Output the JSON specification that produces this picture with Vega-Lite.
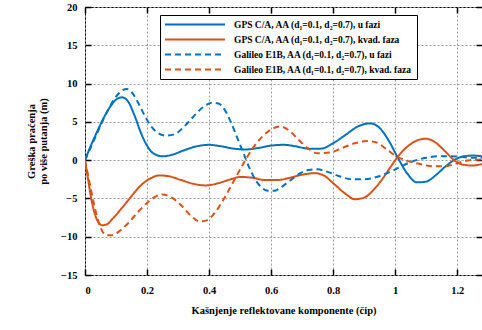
{
  "$schema": "https://vega.github.io/schema/vega-lite/v6.json",
  "width": 397,
  "height": 268,
  "autosize": "none",
  "padding": {"left": 85, "top": 7, "right": 0, "bottom": 55},
  "background": "white",
  "config": {
    "view": {"stroke": "black", "strokeWidth": 1},
    "font": "Liberation Serif",
    "axis": {
      "labelFont": "Liberation Serif", "labelFontWeight": "bold", "labelFontSize": 10.5, "labelColor": "black",
      "titleFont": "Liberation Serif", "titleFontWeight": "bold", "titleFontSize": 10.5, "titleColor": "black",
      "domain": false, "tickColor": "black", "tickWidth": 1.5,
      "gridColor": "#9a9a9a", "gridDash": [2, 2], "gridWidth": 1, "gridOpacity": 1
    }
  },
  "data": {"values": [
    {"s": "GPS C/A, AA (d₁=0.1, d₂=0.7), u fazi", "x": 0, "y": 0},
    {"s": "GPS C/A, AA (d₁=0.1, d₂=0.7), u fazi", "x": 0.02, "y": 2.0},
    {"s": "GPS C/A, AA (d₁=0.1, d₂=0.7), u fazi", "x": 0.04, "y": 3.8},
    {"s": "GPS C/A, AA (d₁=0.1, d₂=0.7), u fazi", "x": 0.06, "y": 5.5},
    {"s": "GPS C/A, AA (d₁=0.1, d₂=0.7), u fazi", "x": 0.08, "y": 6.9},
    {"s": "GPS C/A, AA (d₁=0.1, d₂=0.7), u fazi", "x": 0.10, "y": 7.9},
    {"s": "GPS C/A, AA (d₁=0.1, d₂=0.7), u fazi", "x": 0.12, "y": 8.2},
    {"s": "GPS C/A, AA (d₁=0.1, d₂=0.7), u fazi", "x": 0.14, "y": 7.6},
    {"s": "GPS C/A, AA (d₁=0.1, d₂=0.7), u fazi", "x": 0.16, "y": 5.8},
    {"s": "GPS C/A, AA (d₁=0.1, d₂=0.7), u fazi", "x": 0.18, "y": 3.6},
    {"s": "GPS C/A, AA (d₁=0.1, d₂=0.7), u fazi", "x": 0.20, "y": 1.9},
    {"s": "GPS C/A, AA (d₁=0.1, d₂=0.7), u fazi", "x": 0.22, "y": 0.9},
    {"s": "GPS C/A, AA (d₁=0.1, d₂=0.7), u fazi", "x": 0.25, "y": 0.5},
    {"s": "GPS C/A, AA (d₁=0.1, d₂=0.7), u fazi", "x": 0.28, "y": 0.7},
    {"s": "GPS C/A, AA (d₁=0.1, d₂=0.7), u fazi", "x": 0.32, "y": 1.3},
    {"s": "GPS C/A, AA (d₁=0.1, d₂=0.7), u fazi", "x": 0.36, "y": 1.8},
    {"s": "GPS C/A, AA (d₁=0.1, d₂=0.7), u fazi", "x": 0.40, "y": 2.0},
    {"s": "GPS C/A, AA (d₁=0.1, d₂=0.7), u fazi", "x": 0.44, "y": 1.8},
    {"s": "GPS C/A, AA (d₁=0.1, d₂=0.7), u fazi", "x": 0.48, "y": 1.5},
    {"s": "GPS C/A, AA (d₁=0.1, d₂=0.7), u fazi", "x": 0.52, "y": 1.4},
    {"s": "GPS C/A, AA (d₁=0.1, d₂=0.7), u fazi", "x": 0.56, "y": 1.6},
    {"s": "GPS C/A, AA (d₁=0.1, d₂=0.7), u fazi", "x": 0.60, "y": 1.9},
    {"s": "GPS C/A, AA (d₁=0.1, d₂=0.7), u fazi", "x": 0.64, "y": 2.0},
    {"s": "GPS C/A, AA (d₁=0.1, d₂=0.7), u fazi", "x": 0.68, "y": 1.8},
    {"s": "GPS C/A, AA (d₁=0.1, d₂=0.7), u fazi", "x": 0.72, "y": 1.5},
    {"s": "GPS C/A, AA (d₁=0.1, d₂=0.7), u fazi", "x": 0.76, "y": 1.5},
    {"s": "GPS C/A, AA (d₁=0.1, d₂=0.7), u fazi", "x": 0.80, "y": 2.2},
    {"s": "GPS C/A, AA (d₁=0.1, d₂=0.7), u fazi", "x": 0.84, "y": 3.3},
    {"s": "GPS C/A, AA (d₁=0.1, d₂=0.7), u fazi", "x": 0.88, "y": 4.4},
    {"s": "GPS C/A, AA (d₁=0.1, d₂=0.7), u fazi", "x": 0.92, "y": 4.8},
    {"s": "GPS C/A, AA (d₁=0.1, d₂=0.7), u fazi", "x": 0.95, "y": 4.2},
    {"s": "GPS C/A, AA (d₁=0.1, d₂=0.7), u fazi", "x": 0.98, "y": 2.5},
    {"s": "GPS C/A, AA (d₁=0.1, d₂=0.7), u fazi", "x": 1.01, "y": 0.2},
    {"s": "GPS C/A, AA (d₁=0.1, d₂=0.7), u fazi", "x": 1.04, "y": -1.8},
    {"s": "GPS C/A, AA (d₁=0.1, d₂=0.7), u fazi", "x": 1.07, "y": -2.9},
    {"s": "GPS C/A, AA (d₁=0.1, d₂=0.7), u fazi", "x": 1.10, "y": -2.8},
    {"s": "GPS C/A, AA (d₁=0.1, d₂=0.7), u fazi", "x": 1.13, "y": -2.0},
    {"s": "GPS C/A, AA (d₁=0.1, d₂=0.7), u fazi", "x": 1.16, "y": -0.9},
    {"s": "GPS C/A, AA (d₁=0.1, d₂=0.7), u fazi", "x": 1.19, "y": 0.0},
    {"s": "GPS C/A, AA (d₁=0.1, d₂=0.7), u fazi", "x": 1.22, "y": 0.5},
    {"s": "GPS C/A, AA (d₁=0.1, d₂=0.7), u fazi", "x": 1.25, "y": 0.6},
    {"s": "GPS C/A, AA (d₁=0.1, d₂=0.7), u fazi", "x": 1.28, "y": 0.5},

    {"s": "GPS C/A, AA (d₁=0.1, d₂=0.7), kvad. faza", "x": 0, "y": 0},
    {"s": "GPS C/A, AA (d₁=0.1, d₂=0.7), kvad. faza", "x": 0.01, "y": -2.5},
    {"s": "GPS C/A, AA (d₁=0.1, d₂=0.7), kvad. faza", "x": 0.02, "y": -5.0},
    {"s": "GPS C/A, AA (d₁=0.1, d₂=0.7), kvad. faza", "x": 0.03, "y": -6.8},
    {"s": "GPS C/A, AA (d₁=0.1, d₂=0.7), kvad. faza", "x": 0.04, "y": -7.9},
    {"s": "GPS C/A, AA (d₁=0.1, d₂=0.7), kvad. faza", "x": 0.055, "y": -8.5},
    {"s": "GPS C/A, AA (d₁=0.1, d₂=0.7), kvad. faza", "x": 0.07, "y": -8.4},
    {"s": "GPS C/A, AA (d₁=0.1, d₂=0.7), kvad. faza", "x": 0.09, "y": -7.6},
    {"s": "GPS C/A, AA (d₁=0.1, d₂=0.7), kvad. faza", "x": 0.12, "y": -6.2},
    {"s": "GPS C/A, AA (d₁=0.1, d₂=0.7), kvad. faza", "x": 0.15, "y": -4.7},
    {"s": "GPS C/A, AA (d₁=0.1, d₂=0.7), kvad. faza", "x": 0.18, "y": -3.3},
    {"s": "GPS C/A, AA (d₁=0.1, d₂=0.7), kvad. faza", "x": 0.21, "y": -2.4},
    {"s": "GPS C/A, AA (d₁=0.1, d₂=0.7), kvad. faza", "x": 0.24, "y": -2.0},
    {"s": "GPS C/A, AA (d₁=0.1, d₂=0.7), kvad. faza", "x": 0.27, "y": -2.1},
    {"s": "GPS C/A, AA (d₁=0.1, d₂=0.7), kvad. faza", "x": 0.31, "y": -2.6},
    {"s": "GPS C/A, AA (d₁=0.1, d₂=0.7), kvad. faza", "x": 0.35, "y": -3.1},
    {"s": "GPS C/A, AA (d₁=0.1, d₂=0.7), kvad. faza", "x": 0.39, "y": -3.3},
    {"s": "GPS C/A, AA (d₁=0.1, d₂=0.7), kvad. faza", "x": 0.43, "y": -3.0},
    {"s": "GPS C/A, AA (d₁=0.1, d₂=0.7), kvad. faza", "x": 0.47, "y": -2.5},
    {"s": "GPS C/A, AA (d₁=0.1, d₂=0.7), kvad. faza", "x": 0.50, "y": -2.2},
    {"s": "GPS C/A, AA (d₁=0.1, d₂=0.7), kvad. faza", "x": 0.54, "y": -2.3},
    {"s": "GPS C/A, AA (d₁=0.1, d₂=0.7), kvad. faza", "x": 0.58, "y": -2.6},
    {"s": "GPS C/A, AA (d₁=0.1, d₂=0.7), kvad. faza", "x": 0.62, "y": -2.6},
    {"s": "GPS C/A, AA (d₁=0.1, d₂=0.7), kvad. faza", "x": 0.66, "y": -2.3},
    {"s": "GPS C/A, AA (d₁=0.1, d₂=0.7), kvad. faza", "x": 0.70, "y": -1.9},
    {"s": "GPS C/A, AA (d₁=0.1, d₂=0.7), kvad. faza", "x": 0.74, "y": -1.7},
    {"s": "GPS C/A, AA (d₁=0.1, d₂=0.7), kvad. faza", "x": 0.77, "y": -2.0},
    {"s": "GPS C/A, AA (d₁=0.1, d₂=0.7), kvad. faza", "x": 0.80, "y": -3.0},
    {"s": "GPS C/A, AA (d₁=0.1, d₂=0.7), kvad. faza", "x": 0.84, "y": -4.4},
    {"s": "GPS C/A, AA (d₁=0.1, d₂=0.7), kvad. faza", "x": 0.87, "y": -5.1},
    {"s": "GPS C/A, AA (d₁=0.1, d₂=0.7), kvad. faza", "x": 0.90, "y": -4.9},
    {"s": "GPS C/A, AA (d₁=0.1, d₂=0.7), kvad. faza", "x": 0.93, "y": -3.9},
    {"s": "GPS C/A, AA (d₁=0.1, d₂=0.7), kvad. faza", "x": 0.96, "y": -2.4},
    {"s": "GPS C/A, AA (d₁=0.1, d₂=0.7), kvad. faza", "x": 0.99, "y": -0.6},
    {"s": "GPS C/A, AA (d₁=0.1, d₂=0.7), kvad. faza", "x": 1.02, "y": 1.0},
    {"s": "GPS C/A, AA (d₁=0.1, d₂=0.7), kvad. faza", "x": 1.05, "y": 2.1},
    {"s": "GPS C/A, AA (d₁=0.1, d₂=0.7), kvad. faza", "x": 1.08, "y": 2.7},
    {"s": "GPS C/A, AA (d₁=0.1, d₂=0.7), kvad. faza", "x": 1.10, "y": 2.8},
    {"s": "GPS C/A, AA (d₁=0.1, d₂=0.7), kvad. faza", "x": 1.13, "y": 2.3},
    {"s": "GPS C/A, AA (d₁=0.1, d₂=0.7), kvad. faza", "x": 1.16, "y": 1.2},
    {"s": "GPS C/A, AA (d₁=0.1, d₂=0.7), kvad. faza", "x": 1.19, "y": 0.0},
    {"s": "GPS C/A, AA (d₁=0.1, d₂=0.7), kvad. faza", "x": 1.22, "y": -0.6},
    {"s": "GPS C/A, AA (d₁=0.1, d₂=0.7), kvad. faza", "x": 1.25, "y": -0.7},
    {"s": "GPS C/A, AA (d₁=0.1, d₂=0.7), kvad. faza", "x": 1.28, "y": -0.5},

    {"s": "Galileo E1B, AA (d₁=0.1, d₂=0.7), u fazi", "x": 0, "y": 0},
    {"s": "Galileo E1B, AA (d₁=0.1, d₂=0.7), u fazi", "x": 0.02, "y": 1.8},
    {"s": "Galileo E1B, AA (d₁=0.1, d₂=0.7), u fazi", "x": 0.04, "y": 3.6},
    {"s": "Galileo E1B, AA (d₁=0.1, d₂=0.7), u fazi", "x": 0.06, "y": 5.4},
    {"s": "Galileo E1B, AA (d₁=0.1, d₂=0.7), u fazi", "x": 0.08, "y": 7.0},
    {"s": "Galileo E1B, AA (d₁=0.1, d₂=0.7), u fazi", "x": 0.10, "y": 8.3},
    {"s": "Galileo E1B, AA (d₁=0.1, d₂=0.7), u fazi", "x": 0.12, "y": 9.1},
    {"s": "Galileo E1B, AA (d₁=0.1, d₂=0.7), u fazi", "x": 0.135, "y": 9.3},
    {"s": "Galileo E1B, AA (d₁=0.1, d₂=0.7), u fazi", "x": 0.15, "y": 8.9},
    {"s": "Galileo E1B, AA (d₁=0.1, d₂=0.7), u fazi", "x": 0.17, "y": 7.6},
    {"s": "Galileo E1B, AA (d₁=0.1, d₂=0.7), u fazi", "x": 0.19, "y": 6.0},
    {"s": "Galileo E1B, AA (d₁=0.1, d₂=0.7), u fazi", "x": 0.21, "y": 4.6},
    {"s": "Galileo E1B, AA (d₁=0.1, d₂=0.7), u fazi", "x": 0.23, "y": 3.7},
    {"s": "Galileo E1B, AA (d₁=0.1, d₂=0.7), u fazi", "x": 0.26, "y": 3.2},
    {"s": "Galileo E1B, AA (d₁=0.1, d₂=0.7), u fazi", "x": 0.29, "y": 3.4},
    {"s": "Galileo E1B, AA (d₁=0.1, d₂=0.7), u fazi", "x": 0.32, "y": 4.4},
    {"s": "Galileo E1B, AA (d₁=0.1, d₂=0.7), u fazi", "x": 0.35, "y": 5.7},
    {"s": "Galileo E1B, AA (d₁=0.1, d₂=0.7), u fazi", "x": 0.38, "y": 6.9},
    {"s": "Galileo E1B, AA (d₁=0.1, d₂=0.7), u fazi", "x": 0.41, "y": 7.5},
    {"s": "Galileo E1B, AA (d₁=0.1, d₂=0.7), u fazi", "x": 0.43, "y": 7.4},
    {"s": "Galileo E1B, AA (d₁=0.1, d₂=0.7), u fazi", "x": 0.45, "y": 6.6},
    {"s": "Galileo E1B, AA (d₁=0.1, d₂=0.7), u fazi", "x": 0.47, "y": 5.0},
    {"s": "Galileo E1B, AA (d₁=0.1, d₂=0.7), u fazi", "x": 0.49, "y": 3.0},
    {"s": "Galileo E1B, AA (d₁=0.1, d₂=0.7), u fazi", "x": 0.51, "y": 1.0},
    {"s": "Galileo E1B, AA (d₁=0.1, d₂=0.7), u fazi", "x": 0.53, "y": -1.0},
    {"s": "Galileo E1B, AA (d₁=0.1, d₂=0.7), u fazi", "x": 0.55, "y": -2.6},
    {"s": "Galileo E1B, AA (d₁=0.1, d₂=0.7), u fazi", "x": 0.57, "y": -3.6},
    {"s": "Galileo E1B, AA (d₁=0.1, d₂=0.7), u fazi", "x": 0.59, "y": -4.0},
    {"s": "Galileo E1B, AA (d₁=0.1, d₂=0.7), u fazi", "x": 0.61, "y": -4.0},
    {"s": "Galileo E1B, AA (d₁=0.1, d₂=0.7), u fazi", "x": 0.63, "y": -3.6},
    {"s": "Galileo E1B, AA (d₁=0.1, d₂=0.7), u fazi", "x": 0.66, "y": -2.7},
    {"s": "Galileo E1B, AA (d₁=0.1, d₂=0.7), u fazi", "x": 0.69, "y": -1.8},
    {"s": "Galileo E1B, AA (d₁=0.1, d₂=0.7), u fazi", "x": 0.72, "y": -1.3},
    {"s": "Galileo E1B, AA (d₁=0.1, d₂=0.7), u fazi", "x": 0.75, "y": -1.2},
    {"s": "Galileo E1B, AA (d₁=0.1, d₂=0.7), u fazi", "x": 0.78, "y": -1.5},
    {"s": "Galileo E1B, AA (d₁=0.1, d₂=0.7), u fazi", "x": 0.82, "y": -2.1},
    {"s": "Galileo E1B, AA (d₁=0.1, d₂=0.7), u fazi", "x": 0.86, "y": -2.5},
    {"s": "Galileo E1B, AA (d₁=0.1, d₂=0.7), u fazi", "x": 0.90, "y": -2.5},
    {"s": "Galileo E1B, AA (d₁=0.1, d₂=0.7), u fazi", "x": 0.94, "y": -2.2},
    {"s": "Galileo E1B, AA (d₁=0.1, d₂=0.7), u fazi", "x": 0.98, "y": -1.6},
    {"s": "Galileo E1B, AA (d₁=0.1, d₂=0.7), u fazi", "x": 1.02, "y": -0.8},
    {"s": "Galileo E1B, AA (d₁=0.1, d₂=0.7), u fazi", "x": 1.06, "y": -0.1},
    {"s": "Galileo E1B, AA (d₁=0.1, d₂=0.7), u fazi", "x": 1.10, "y": 0.3},
    {"s": "Galileo E1B, AA (d₁=0.1, d₂=0.7), u fazi", "x": 1.14, "y": 0.5},
    {"s": "Galileo E1B, AA (d₁=0.1, d₂=0.7), u fazi", "x": 1.18, "y": 0.5},
    {"s": "Galileo E1B, AA (d₁=0.1, d₂=0.7), u fazi", "x": 1.22, "y": 0.4},
    {"s": "Galileo E1B, AA (d₁=0.1, d₂=0.7), u fazi", "x": 1.25, "y": 0.3},
    {"s": "Galileo E1B, AA (d₁=0.1, d₂=0.7), u fazi", "x": 1.28, "y": 0.3},

    {"s": "Galileo E1B, AA (d₁=0.1, d₂=0.7), kvad. faza", "x": 0, "y": 0},
    {"s": "Galileo E1B, AA (d₁=0.1, d₂=0.7), kvad. faza", "x": 0.01, "y": -2.0},
    {"s": "Galileo E1B, AA (d₁=0.1, d₂=0.7), kvad. faza", "x": 0.02, "y": -4.0},
    {"s": "Galileo E1B, AA (d₁=0.1, d₂=0.7), kvad. faza", "x": 0.035, "y": -6.8},
    {"s": "Galileo E1B, AA (d₁=0.1, d₂=0.7), kvad. faza", "x": 0.05, "y": -8.8},
    {"s": "Galileo E1B, AA (d₁=0.1, d₂=0.7), kvad. faza", "x": 0.07, "y": -9.8},
    {"s": "Galileo E1B, AA (d₁=0.1, d₂=0.7), kvad. faza", "x": 0.09, "y": -9.8},
    {"s": "Galileo E1B, AA (d₁=0.1, d₂=0.7), kvad. faza", "x": 0.11, "y": -9.3},
    {"s": "Galileo E1B, AA (d₁=0.1, d₂=0.7), kvad. faza", "x": 0.14, "y": -8.2},
    {"s": "Galileo E1B, AA (d₁=0.1, d₂=0.7), kvad. faza", "x": 0.17, "y": -6.8},
    {"s": "Galileo E1B, AA (d₁=0.1, d₂=0.7), kvad. faza", "x": 0.20, "y": -5.6},
    {"s": "Galileo E1B, AA (d₁=0.1, d₂=0.7), kvad. faza", "x": 0.23, "y": -4.7},
    {"s": "Galileo E1B, AA (d₁=0.1, d₂=0.7), kvad. faza", "x": 0.25, "y": -4.5},
    {"s": "Galileo E1B, AA (d₁=0.1, d₂=0.7), kvad. faza", "x": 0.28, "y": -4.9},
    {"s": "Galileo E1B, AA (d₁=0.1, d₂=0.7), kvad. faza", "x": 0.31, "y": -5.9},
    {"s": "Galileo E1B, AA (d₁=0.1, d₂=0.7), kvad. faza", "x": 0.34, "y": -7.2},
    {"s": "Galileo E1B, AA (d₁=0.1, d₂=0.7), kvad. faza", "x": 0.37, "y": -8.0},
    {"s": "Galileo E1B, AA (d₁=0.1, d₂=0.7), kvad. faza", "x": 0.39, "y": -7.9},
    {"s": "Galileo E1B, AA (d₁=0.1, d₂=0.7), kvad. faza", "x": 0.42, "y": -6.8},
    {"s": "Galileo E1B, AA (d₁=0.1, d₂=0.7), kvad. faza", "x": 0.45, "y": -4.9},
    {"s": "Galileo E1B, AA (d₁=0.1, d₂=0.7), kvad. faza", "x": 0.48, "y": -2.7},
    {"s": "Galileo E1B, AA (d₁=0.1, d₂=0.7), kvad. faza", "x": 0.51, "y": -0.5},
    {"s": "Galileo E1B, AA (d₁=0.1, d₂=0.7), kvad. faza", "x": 0.54, "y": 1.5},
    {"s": "Galileo E1B, AA (d₁=0.1, d₂=0.7), kvad. faza", "x": 0.57, "y": 3.0},
    {"s": "Galileo E1B, AA (d₁=0.1, d₂=0.7), kvad. faza", "x": 0.60, "y": 4.0},
    {"s": "Galileo E1B, AA (d₁=0.1, d₂=0.7), kvad. faza", "x": 0.63, "y": 4.4},
    {"s": "Galileo E1B, AA (d₁=0.1, d₂=0.7), kvad. faza", "x": 0.66, "y": 3.8},
    {"s": "Galileo E1B, AA (d₁=0.1, d₂=0.7), kvad. faza", "x": 0.69, "y": 2.6},
    {"s": "Galileo E1B, AA (d₁=0.1, d₂=0.7), kvad. faza", "x": 0.72, "y": 1.5},
    {"s": "Galileo E1B, AA (d₁=0.1, d₂=0.7), kvad. faza", "x": 0.75, "y": 0.9},
    {"s": "Galileo E1B, AA (d₁=0.1, d₂=0.7), kvad. faza", "x": 0.79, "y": 1.0},
    {"s": "Galileo E1B, AA (d₁=0.1, d₂=0.7), kvad. faza", "x": 0.83, "y": 1.6},
    {"s": "Galileo E1B, AA (d₁=0.1, d₂=0.7), kvad. faza", "x": 0.87, "y": 2.2},
    {"s": "Galileo E1B, AA (d₁=0.1, d₂=0.7), kvad. faza", "x": 0.91, "y": 2.5},
    {"s": "Galileo E1B, AA (d₁=0.1, d₂=0.7), kvad. faza", "x": 0.94, "y": 2.3},
    {"s": "Galileo E1B, AA (d₁=0.1, d₂=0.7), kvad. faza", "x": 0.97, "y": 1.5},
    {"s": "Galileo E1B, AA (d₁=0.1, d₂=0.7), kvad. faza", "x": 1.00, "y": 0.6},
    {"s": "Galileo E1B, AA (d₁=0.1, d₂=0.7), kvad. faza", "x": 1.04, "y": -0.1},
    {"s": "Galileo E1B, AA (d₁=0.1, d₂=0.7), kvad. faza", "x": 1.08, "y": -0.5},
    {"s": "Galileo E1B, AA (d₁=0.1, d₂=0.7), kvad. faza", "x": 1.12, "y": -0.8},
    {"s": "Galileo E1B, AA (d₁=0.1, d₂=0.7), kvad. faza", "x": 1.16, "y": -0.8},
    {"s": "Galileo E1B, AA (d₁=0.1, d₂=0.7), kvad. faza", "x": 1.20, "y": -0.4},
    {"s": "Galileo E1B, AA (d₁=0.1, d₂=0.7), kvad. faza", "x": 1.24, "y": 0.0},
    {"s": "Galileo E1B, AA (d₁=0.1, d₂=0.7), kvad. faza", "x": 1.28, "y": 0.1}
  ]},
  "layer": [
    {
      "mark": {"type": "line", "interpolate": "monotone", "strokeWidth": 2, "clip": true},
      "encoding": {
        "x": {"field": "x", "type": "quantitative", "scale": {"domain": [0, 1.28], "nice": false},
              "axis": {"title": "Kašnjenje reflektovane komponente (čip)", "values": [0, 0.2, 0.4, 0.6, 0.8, 1, 1.2], "format": "~g",
                       "tickSize": -6, "labelPadding": 16, "titlePadding": 10, "grid": true}},
        "y": {"field": "y", "type": "quantitative", "scale": {"domain": [-15, 20], "nice": false},
              "axis": {"title": ["Greška praćenja", "po više putanja (m)"], "values": [-15, -10, -5, 0, 5, 10, 15, 20],
                       "tickSize": -6, "labelPadding": 14, "titlePadding": 12, "grid": true}},
        "color": {"field": "s", "type": "nominal",
                  "scale": {"domain": ["GPS C/A, AA (d₁=0.1, d₂=0.7), u fazi", "GPS C/A, AA (d₁=0.1, d₂=0.7), kvad. faza", "Galileo E1B, AA (d₁=0.1, d₂=0.7), u fazi", "Galileo E1B, AA (d₁=0.1, d₂=0.7), kvad. faza"],
                            "range": ["#0072BD", "#D95319", "#0072BD", "#D95319"]},
                  "legend": {"title": null, "orient": "none", "legendX": 75, "legendY": 8,
                             "symbolType": "stroke", "symbolSize": 3600, "symbolStrokeWidth": 2, "clipHeight": 11,
                             "labelFont": "Liberation Serif", "labelFontWeight": "bold", "labelFontSize": 9.5, "labelColor": "black",
                             "labelLimit": 400, "padding": 4, "rowPadding": 4, "labelOffset": 8,
                             "strokeColor": "black", "fillColor": "white"}},
        "strokeDash": {"field": "s", "type": "nominal",
                       "scale": {"domain": ["GPS C/A, AA (d₁=0.1, d₂=0.7), u fazi", "GPS C/A, AA (d₁=0.1, d₂=0.7), kvad. faza", "Galileo E1B, AA (d₁=0.1, d₂=0.7), u fazi", "Galileo E1B, AA (d₁=0.1, d₂=0.7), kvad. faza"],
                                 "range": [[1, 0], [1, 0], [6, 4], [6, 4]]},
                       "legend": {"title": null}}
      }
    },
    {
      "mark": {"type": "line", "opacity": 0},
      "encoding": {
        "x": {"field": "x", "type": "quantitative", "scale": {"domain": [0, 1.28], "nice": false},
              "axis": {"orient": "top", "values": [0, 0.2, 0.4, 0.6, 0.8, 1, 1.2], "labels": false, "title": null, "tickSize": -6, "grid": false}},
        "y": {"field": "y", "type": "quantitative", "scale": {"domain": [-15, 20], "nice": false},
              "axis": {"orient": "right", "values": [-15, -10, -5, 0, 5, 10, 15, 20], "labels": false, "title": null, "tickSize": -6, "grid": false}},
        "detail": {"field": "s"}
      }
    }
  ],
  "resolve": {"axis": {"x": "independent", "y": "independent"}}
}
